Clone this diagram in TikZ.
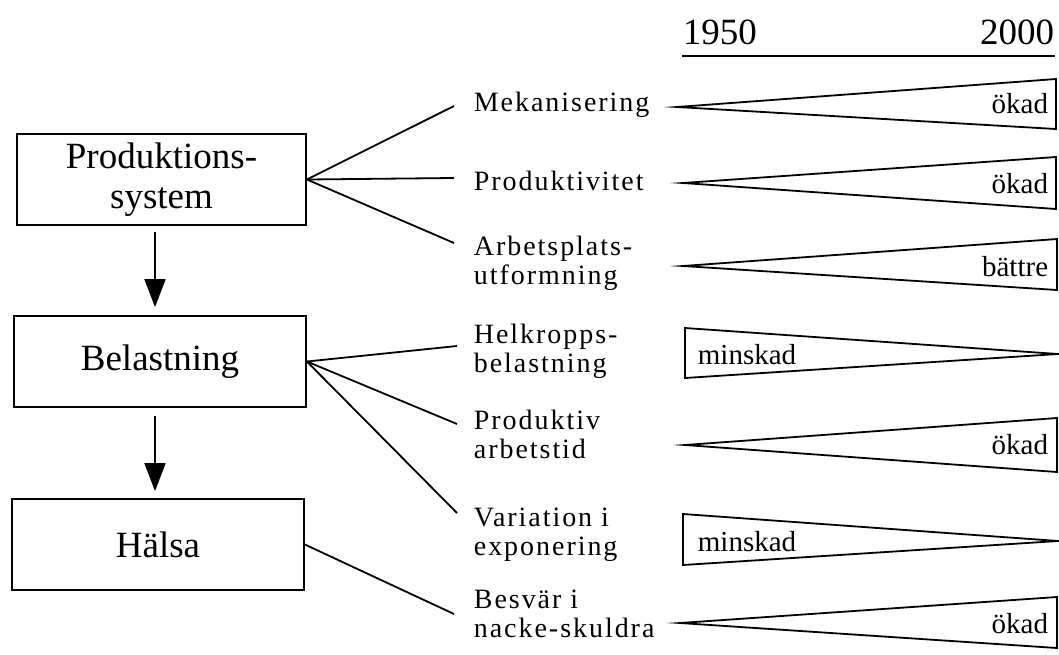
\documentclass[tikz,border=0pt]{standalone}
\usepackage{fontspec}
\setmainfont{Liberation Serif}
\newfontfamily\lblfont[LetterSpace=7]{Liberation Serif}
\usetikzlibrary{arrows.meta,calc}
\begin{document}
\begin{tikzpicture}[x=1pt,y=-1pt, line width=1.8pt,
  box/.style={draw, minimum height=91pt, inner sep=0pt, align=center,
    font=\fontsize{37}{40}\selectfont},
  lbl/.style={anchor=base west, inner sep=0pt, align=left,
    font=\lblfont\fontsize{28}{29}\selectfont},
  tag/.style={inner sep=0pt, font=\fontsize{29}{30}\selectfont},
  yr/.style={inner sep=0pt, font=\fontsize{37}{40}\selectfont},
  link/.style={line width=1.8pt},
  arr/.style={line width=1.8pt, -{Triangle[length=28pt,width=21pt]}},
  wedge/.style={line width=1.8pt, line join=miter, miter limit=25}]
\useasboundingbox (0,0) rectangle (1059,654);

% boxes
\node[box, minimum width=289pt] (b1) at (161.5,179.5) {Produktions-\\system};
\node[box, minimum width=292pt] (b2) at (160,361.5) {Belastning};
\node[box, minimum width=292pt] (b3) at (158,544.5) {Hälsa};

\draw[arr] ($(b1.south)+(-6.5,6)$) -- ($(b2.north)+(-5,-8)$);
\draw[arr] ($(b2.south)+(-5,8)$) -- ($(b3.north)+(-3,-7)$);

% labels (base anchor = baseline of the last line)
\node[lbl] (l1) at (473,111) {Mekanisering};
\node[lbl] (l2) at (473,190) {Produktivitet};
\node[lbl] (l3) at (473,284) {Arbetsplats-\\utformning};
\node[lbl] (l4) at (473,372) {Helkropps-\\belastning};
\node[lbl] (l5) at (473,458) {Produktiv\\arbetstid};
\node[lbl] (l6) at (473,555) {Variation i\\exponering};
\node[lbl] (l7) at (473,637) {Besvär i\\nacke-skuldra};

\coordinate (e1) at (454,106);
\coordinate (e2) at (454,178);
\coordinate (e3) at (454,243);
\coordinate (e4) at (457,346);
\coordinate (e5) at (457,424);
\coordinate (e6) at (457,513);
\coordinate (e7) at (454,614);

\draw[link] (b1.east) -- (e1);
\draw[link] (b1.east) -- (e2);
\draw[link] (b1.east) -- (e3);
\draw[link] (b2.east) -- (e4);
\draw[link] (b2.east) -- (e5);
\draw[link] (b2.east) -- (e6);
\draw[link] (b3.east) -- (e7);

% header
\node[yr, anchor=base west] (y1) at (682,44) {1950};
\node[yr, anchor=base east] (y2) at (1055,44) {2000};
\coordinate (h1) at (682,56);
\coordinate (h2) at (1055,56);
\draw[link] (h1) -- (h2);

% wedges
\draw[wedge] (677,107) -- (1056,79) -- (1056,129) -- cycle;
\node[tag, anchor=base east] (t1) at (1049,113) {ökad};
\draw[wedge] (683,183) -- (1056,157) -- (1056,209) -- cycle;
\node[tag, anchor=base east] (t2) at (1049,193) {ökad};
\draw[wedge] (683,266) -- (1057,239) -- (1057,290) -- cycle;
\node[tag, anchor=base east] (t3) at (1049,276) {bättre};
\draw[wedge] (685,328) -- (1058,354) -- (685,378) -- cycle;
\node[tag, anchor=base west] (t4) at (697,364) {minskad};
\draw[wedge] (685,445) -- (1057,418) -- (1057,472) -- cycle;
\node[tag, anchor=base east] (t5) at (1049,454) {ökad};
\draw[wedge] (683,514) -- (1058,541) -- (683,565) -- cycle;
\node[tag, anchor=base west] (t6) at (697,551) {minskad};
\draw[wedge] (680,623) -- (1057,597) -- (1057,648) -- cycle;
\node[tag, anchor=base east] (t7) at (1049,633) {ökad};
\end{tikzpicture}
\end{document}
